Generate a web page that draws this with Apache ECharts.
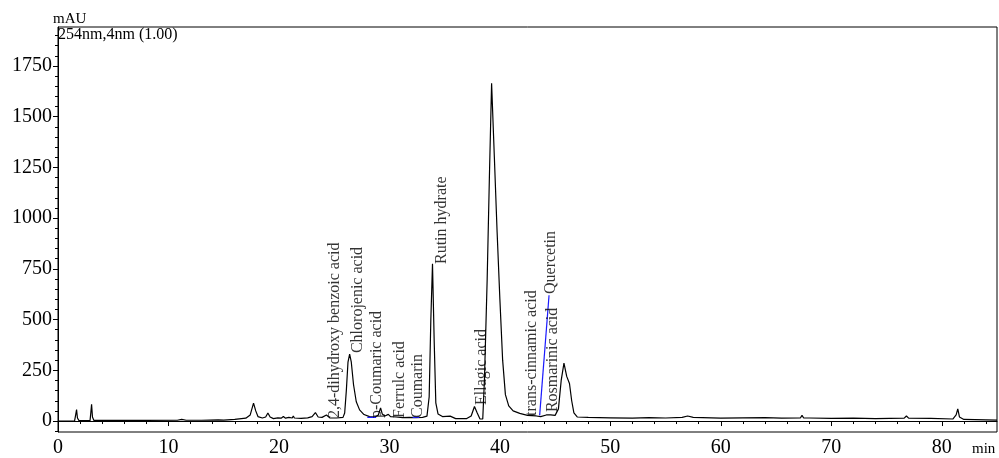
<!DOCTYPE html>
<html>
<head>
<meta charset="utf-8">
<script src="https://cdn.jsdelivr.net/npm/echarts@6/dist/echarts.min.js"></script>
<style>
html, body { margin: 0; padding: 0; background: #fff; }
#main { width: 999px; height: 458px; }
</style>
</head>
<body>
<div id="main"></div>
<script>
// 色谱图 254nm
var traceTime = [0, 1.5, 1.6, 1.68, 1.76, 1.9, 2.9, 2.97, 3.04, 3.12, 3.25, 5, 8, 10.8, 11.2, 11.6, 13, 14.5, 15, 16, 17,
    17.4, 17.7, 17.9, 18.1, 18.5, 18.8, 19.0, 19.2, 19.5, 19.9, 20.2, 20.4, 20.6, 20.9, 21.2, 21.3, 21.4, 22, 22.6, 23.0,
    23.3, 23.55, 23.9, 24.3, 24.6, 25.2, 25.8, 25.95, 26.1, 26.25, 26.4, 26.55, 26.75, 27.0, 27.3, 27.7, 28.2, 28.7, 29.0,
    29.2, 29.35, 29.6, 29.9, 30.1, 30.6, 31.2, 31.8, 32.4, 33.0, 33.4, 33.6, 33.75, 33.9, 34.05, 34.2, 34.4, 34.8, 35.5,
    36.0, 37.0, 37.4, 37.7, 37.95, 38.2, 38.45, 38.6, 38.85, 39.05, 39.25, 39.5, 39.75, 40.0, 40.25, 40.5, 40.8, 41.2,
    41.8, 42.5, 43.3, 43.7, 44.2, 44.6, 45.0, 45.3, 45.55, 45.8, 46.05, 46.3, 46.5, 46.7, 47.0, 48, 50, 52, 53.5, 55,
    56.5, 57.0, 57.5, 60, 62, 64, 65.5, 67.2, 67.35, 67.5, 68, 70, 72, 74, 76.6, 76.8, 77.0, 79, 81.0, 81.3, 81.45, 81.6,
    82, 85];
var traceMau = [0, 1, 30, 57, 15, 2, 2, 40, 82, 20, 3, 3, 3, 4, 8, 4, 4, 6, 5, 8, 14,
    30, 88, 50, 22, 15, 20, 40, 20, 12, 16, 14, 22, 14, 18, 15, 25, 15, 13, 16, 22,
    42, 20, 18, 30, 16, 15, 18, 40, 150, 290, 330, 290, 180, 95, 55, 32, 22, 20, 30,
    65, 35, 25, 33, 22, 20, 17, 18, 17, 18, 24, 120, 500, 775, 400, 90, 35, 22, 24,
    12, 12, 25, 72, 40, 10, 10, 200, 700, 1200, 1665, 1300, 930, 600, 300, 130, 75, 50,
    38, 28, 25, 22, 30, 30, 28, 60, 200, 285, 220, 185, 100, 40, 20, 18, 16, 14, 17, 15,
    18, 25, 18, 14, 16, 17, 14, 15, 28, 15, 15, 13, 14, 12, 14, 25, 14, 13, 10, 30, 60, 20,
    8, 5];

// 峰名称
var peakNames = ['2,4-dihydroxy benzoic acid', 'Chlorojenic acid', 'p-Coumaric acid', 'Ferrulc acid', 'Coumarin',
    'Rutin hydrate', 'Ellagic acid', 'trans-cinnamic acid', 'Quercetin', 'Rosmarinic acid'];
var peakTime = [25.05, 27.1, 28.83, 30.92, 32.55, 34.72, 38.35, 42.88, 44.6, 44.8];
var peakLabelMau = [15, 335, 15, 15, 15, 774, 79, 25, 626, 44];

// 积分基线 (蓝色)
var blueStartTime = [28.0, 32.1, 43.6];
var blueStartMau = [18, 18, 28];
var blueEndTime = [28.8, 32.7, 44.45];
var blueEndMau = [18, 18, 620];

var xTicks = [0, 10, 20, 30, 40, 50, 60, 70, 80];
var yTicks = [0, 250, 500, 750, 1000, 1250, 1500, 1750];

var xMinor = [];
for (var i = 0; i <= 84; i += 2) xMinor.push(i);
var yMinor = [];
for (var j = -50; j <= 1900; j += 50) yMinor.push(j);

var serif = "'Liberation Serif', 'Times New Roman', serif";

var myChart = echarts.init(document.getElementById('main'));

var traceData = [];
for (var k = 0; k < traceTime.length; k++) {
    traceData.push([traceTime[k], traceMau[k]]);
}
var labelData = [];
for (var m = 0; m < peakNames.length; m++) {
    labelData.push({ name: peakNames[m], value: [peakTime[m], peakLabelMau[m]] });
}

var series = [{
    type: 'line',
    data: traceData,
    showSymbol: false,
    lineStyle: { color: '#000', width: 1.2 },
    z: 3
}];
for (var b = 0; b < blueStartTime.length; b++) {
    series.push({
        type: 'line',
        data: [[blueStartTime[b], blueStartMau[b]], [blueEndTime[b], blueEndMau[b]]],
        showSymbol: false,
        lineStyle: { color: '#1a1aff', width: 1.2 },
        z: 4
    });
}
// 竖排峰标签
series.push({
    type: 'scatter',
    data: labelData,
    symbolSize: 1,
    itemStyle: { color: 'rgba(0,0,0,0)' },
    label: {
        show: true,
        formatter: '{b}',
        position: 'inside',
        rotate: 90,
        align: 'left',
        verticalAlign: 'middle',
        color: '#000',
        fontSize: 16,
        fontFamily: serif
    },
    labelLayout: { hideOverlap: false },
    z: 5
});

var option = {
    animation: false,
    grid: {
        left: 58, right: 2, top: 27, bottom: 26,
        show: true, borderColor: '#000', borderWidth: 1
    },
    xAxis: [{
        type: 'value', min: 0, max: 85,
        axisLine: { lineStyle: { color: '#000' } },
        axisTick: { show: true, length: 5, customValues: xTicks, lineStyle: { color: '#000' } },
        axisLabel: { customValues: xTicks, fontSize: 20, color: '#000', fontFamily: serif, margin: 6 },
        splitLine: { show: false }
    }, {
        type: 'value', min: 0, max: 85, position: 'bottom',
        axisLine: { show: false },
        axisTick: { show: true, length: 3, customValues: xMinor, lineStyle: { color: '#000' } },
        axisLabel: { show: false },
        splitLine: { show: false }
    }],
    yAxis: [{
        type: 'value', min: -54, max: 1942,
        axisLine: { show: true, lineStyle: { color: '#000' } },
        axisTick: { show: true, length: 5, customValues: yTicks, lineStyle: { color: '#000' } },
        axisLabel: {
            customValues: yTicks, fontSize: 20, color: '#000', fontFamily: serif, margin: 6,
            formatter: function (v) { return String(v); }
        },
        splitLine: { show: false }
    }, {
        type: 'value', min: -54, max: 1942, position: 'left',
        axisLine: { show: false },
        axisTick: { show: true, length: 3, customValues: yMinor, lineStyle: { color: '#000' } },
        axisLabel: { show: false },
        splitLine: { show: false }
    }],
    graphic: [
        { type: 'text', left: 53, top: 12, style: { text: 'mAU', font: '15px ' + serif, fill: '#000' } },
        { type: 'text', left: 58, top: 27, style: { text: '254nm,4nm (1.00)', font: '16px ' + serif, fill: '#000' } },
        { type: 'text', left: 972, top: 442, style: { text: 'min', font: '15px ' + serif, fill: '#000' } }
    ],
    series: series
};
myChart.setOption(option);
</script>
</body>
</html>
